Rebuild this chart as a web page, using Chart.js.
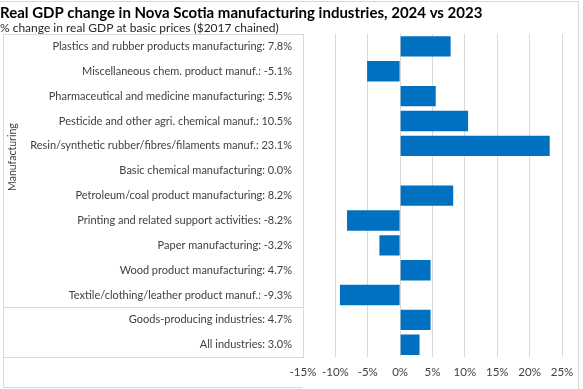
<!DOCTYPE html>
<html>
<head>
<meta charset="utf-8">
<script src="https://cdn.jsdelivr.net/npm/chart.js@4"></script>
<style>
html,body{margin:0;padding:0;background:#fff;}
#wrap{width:583px;height:389px;position:relative;}
</style>
</head>
<body>
<div id="wrap"><canvas id="c" width="583" height="389"></canvas></div>
<script>
const titleText = "Real GDP change in Nova Scotia manufacturing industries, 2024 vs 2023";
const subtitleText = "% change in real GDP at basic prices ($2017 chained)";
const categories = [
  "Plastics and rubber products manufacturing",
  "Miscellaneous chem. product manuf.",
  "Pharmaceutical and medicine manufacturing",
  "Pesticide and other agri. chemical manuf.",
  "Resin/synthetic rubber/fibres/filaments manuf.",
  "Basic chemical manufacturing",
  "Petroleum/coal product manufacturing",
  "Printing and related support activities",
  "Paper manufacturing",
  "Wood product manufacturing",
  "Textile/clothing/leather product manuf.",
  "Goods-producing industries",
  "All industries"
];
const values = [7.8, -5.1, 5.5, 10.5, 23.1, 0.0, 8.2, -8.2, -3.2, 4.7, -9.3, 4.7, 3.0];
const groupName = "Manufacturing";
const groupCount = 11;
const xTicks = [-15, -10, -5, 0, 5, 10, 15, 20, 25];

const FONT = "Lato, 'Open Sans', sans-serif";
const lineCol = "#d9d9d9";

const tableLines = {
  id: 'tableLines',
  afterDraw(chart) {
    const ctx = chart.ctx;
    const ca = chart.chartArea;
    const y = chart.scales.y;
    const leftX = 3.5;
    ctx.save();
    ctx.strokeStyle = lineCol;
    ctx.lineWidth = 1;
    const hLine = (yy) => { ctx.beginPath(); ctx.moveTo(leftX, yy); ctx.lineTo(ca.left, yy); ctx.stroke(); };
    const top = Math.round(ca.top) + 0.5;
    const sep = Math.round(y.getPixelForValue(groupCount - 0.5)) + 0.5;
    const bot = Math.round(ca.bottom) + 0.5;
    hLine(top); hLine(sep); hLine(bot);
    const lowest = chart.height - 1.5;
    hLine(lowest);
    ctx.beginPath(); ctx.moveTo(leftX, top); ctx.lineTo(leftX, lowest); ctx.stroke();
    // chart border top/right
    ctx.beginPath(); ctx.moveTo(0, 1.5); ctx.lineTo(chart.width - 4.5, 1.5); ctx.lineTo(chart.width - 4.5, chart.height); ctx.stroke();
    // group label
    const cy = y.getPixelForValue(4.45);
    ctx.translate(13, cy);
    ctx.rotate(-Math.PI / 2);
    ctx.fillStyle = "#404040";
    ctx.font = "10.5px " + FONT;
    ctx.textAlign = "center";
    ctx.textBaseline = "middle";
    ctx.fillText(groupName, 0, 0);
    ctx.restore();
  }
};

new Chart(document.getElementById('c'), {
  type: 'bar',
  data: {
    labels: categories,
    datasets: [{
      data: values,
      backgroundColor: '#0070c0',
      borderWidth: 0,
      categoryPercentage: 1,
      barPercentage: 0.82
    }]
  },
  options: {
    indexAxis: 'y',
    responsive: false,
    animation: false,
    devicePixelRatio: 1,
    layout: { padding: { left: 0, right: 21, top: 0, bottom: 2 } },
    plugins: {
      legend: { display: false },
      tooltip: { enabled: false },
      title: {
        display: true, text: titleText, align: 'start',
        color: '#000000',
        font: { family: FONT, size: 15, weight: 'bold', lineHeight: 1.2 },
        padding: { top: 4, bottom: 0, left: 6 }
      },
      subtitle: {
        display: true, text: subtitleText, align: 'start',
        color: '#262626',
        font: { family: FONT, size: 12, lineHeight: 1.0 },
        padding: { top: 0, bottom: 0 }
      }
    },
    scales: {
      x: {
        type: 'linear',
        min: xTicks[0], max: xTicks[xTicks.length - 1],
        afterBuildTicks: (s) => { s.ticks = xTicks.map(v => ({ value: v })); },
        grid: { color: lineCol, drawTicks: false },
        border: { display: false },
        ticks: {
          color: '#404040',
          font: { family: FONT, size: 11.5 },
          padding: 8,
          maxRotation: 0,
          minRotation: 0,
          autoSkip: false,
          callback: (v) => v + '%'
        }
      },
      y: {
        grid: { display: false, drawTicks: false },
        border: { display: true, color: lineCol },
        afterFit: (s) => { s.width = 303; },
        ticks: {
          color: '#404040',
          font: { family: FONT, size: 11 },
          padding: 11,
          autoSkip: false,
          callback: (v, i) => categories[i] + ': ' + values[i].toFixed(1) + '%'
        }
      }
    }
  },
  plugins: [tableLines]
});
</script>
</body>
</html>
